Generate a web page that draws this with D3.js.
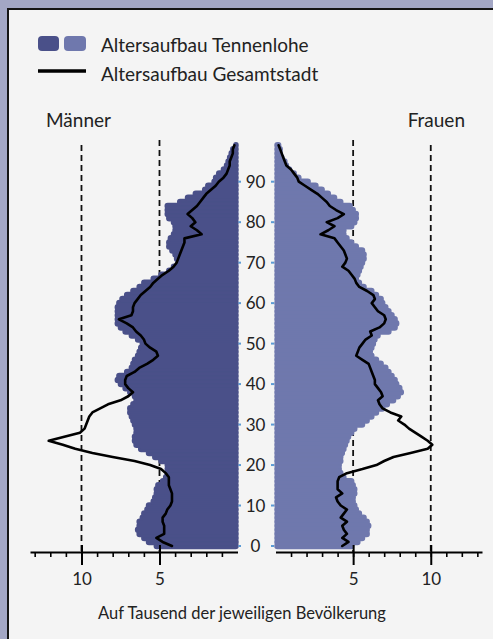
<!DOCTYPE html>
<html>
<head>
	<meta charset="utf-8">
	<script type="text/javascript" src="https://cdn.jsdelivr.net/npm/d3@7/dist/d3.min.js"></script>
	<title>Altersaufbau Tennenlohe</title>
	<style>
		body { margin: 0; }
		svg { display: block; }
	</style>
</head>
<body>
	<script type="text/javascript">

	// ages 0..99, values per thousand
	var ages = d3.range(0, 100);

	var maleTennenlohe = [
		5.3, 5.8, 6.1, 6.4, 6.5, 6.4, 6.4, 6.2, 6.1, 5.9,
		5.8, 5.5, 5.4, 5.3, 5.3, 5.2, 4.9, 4.7, 4.6, 4.6,
		4.6, 5.0, 5.4, 5.8, 6.3, 6.6, 6.7, 6.7, 6.6, 6.6,
		6.7, 6.8, 6.9, 7.0, 7.0, 6.8, 6.6, 6.7, 7.0, 7.3,
		7.6, 7.8, 7.7, 7.2, 6.9, 6.8, 6.7, 6.5, 6.4, 6.3,
		6.2, 6.5, 6.9, 7.3, 7.6, 7.8, 7.8, 7.8, 7.8, 7.8,
		7.7, 7.5, 7.2, 6.8, 6.4, 6.1, 5.5, 5.0, 4.5, 4.2,
		3.9, 4.0, 4.1, 4.3, 4.5, 4.5, 4.4, 4.2, 4.1, 4.1,
		4.2, 4.5, 4.6, 4.6, 4.6, 3.8, 3.3, 2.8, 2.2, 2.0,
		1.6, 1.5, 1.3, 1.0, 0.8, 0.7, 0.6, 0.5, 0.4, 0.2
	];

	var femaleTennenlohe = [
		5.0, 5.4, 5.7, 6.0, 6.0, 6.1, 6.0, 5.8, 5.5, 5.3,
		5.2, 5.1, 5.1, 5.2, 5.2, 5.1, 5.0, 4.5, 4.3, 4.2,
		4.2, 4.3, 4.3, 4.4, 4.5, 4.6, 4.7, 4.8, 5.0, 5.2,
		5.7, 6.0, 6.3, 6.6, 7.0, 7.3, 7.7, 8.0, 8.2, 8.1,
		7.9, 7.8, 7.6, 7.4, 7.2, 6.9, 6.6, 6.3, 6.2, 6.3,
		6.4, 6.5, 6.7, 7.4, 7.8, 7.9, 7.8, 7.6, 7.4, 7.2,
		7.0, 6.9, 6.6, 6.3, 5.8, 5.5, 5.3, 5.4, 5.5, 5.6,
		5.7, 5.8, 5.8, 5.7, 5.3, 5.0, 4.7, 4.5, 4.5, 5.0,
		5.2, 5.3, 5.3, 5.1, 4.9, 4.3, 3.9, 3.5, 3.1, 2.7,
		2.2, 1.6, 1.3, 1.0, 0.8, 0.7, 0.5, 0.4, 0.4, 0.3
	];

	var maleStadt = [
		4.2, 4.8, 5.2, 4.7, 4.7, 4.7, 4.8, 4.8, 4.6, 4.5,
		4.3, 4.2, 4.2, 4.2, 4.3, 4.4, 4.4, 4.4, 4.6, 4.9,
		5.6, 6.6, 8.0, 9.3, 10.4, 11.2, 12.1, 11.1, 10.1, 9.8,
		9.7, 9.6, 9.5, 9.3, 8.8, 8.3, 7.5, 7.0, 6.7, 7.0,
		7.2, 7.2, 7.1, 6.6, 6.3, 5.8, 5.4, 5.1, 5.2, 5.6,
		5.9, 6.0, 6.2, 6.5, 6.7, 7.1, 7.6, 6.8, 6.7, 6.7,
		6.6, 6.4, 6.2, 5.9, 5.6, 5.4, 5.1, 4.8, 4.4, 4.1,
		3.9, 3.8, 3.7, 3.6, 3.5, 3.4, 3.4, 2.3, 2.6, 3.0,
		2.7, 2.9, 3.2, 2.9, 2.6, 2.4, 2.2, 2.0, 1.7, 1.4,
		1.2, 0.9, 0.7, 0.6, 0.5, 0.5, 0.4, 0.3, 0.3, 0.2
	];

	var femaleStadt = [
		4.3, 4.7, 4.3, 4.6, 4.4, 4.3, 4.6, 4.2, 4.4, 4.6,
		4.2, 4.0, 3.9, 4.3, 4.0, 4.0, 4.0, 4.1, 4.6, 5.6,
		6.5, 7.0, 7.6, 8.7, 9.8, 10.1, 9.8, 9.4, 9.0, 8.6,
		8.3, 7.9, 8.1, 7.4, 6.9, 6.7, 6.6, 6.9, 6.8, 6.6,
		6.4, 6.4, 6.3, 6.2, 6.1, 6.0, 5.6, 5.2, 5.3, 5.4,
		5.6, 5.8, 6.2, 6.1, 6.7, 7.0, 7.1, 7.0, 6.6, 6.4,
		6.2, 6.4, 6.3, 5.9, 5.4, 5.2, 5.1, 4.9, 4.7, 4.3,
		4.5, 4.6, 4.5, 4.4, 4.2, 4.0, 3.8, 2.9, 3.4, 3.8,
		3.3, 4.0, 4.4, 3.9, 3.5, 3.3, 3.0, 2.7, 2.3, 1.9,
		1.5, 1.4, 1.2, 1.0, 0.7, 0.6, 0.5, 0.4, 0.3, 0.2
	];

	var ageTicks = [0, 10, 20, 30, 40, 50, 60, 70, 80, 90];
	var minorTicks = [1, 2, 3, 4, 5, 6, 7, 8, 9, 10, 11, 12, 13];
	var majorTicks = [5, 10];

	var legendLabels = ["Altersaufbau Tennenlohe", "Altersaufbau Gesamtstadt"];
	var sideLabels = ["Männer", "Frauen"];
	var axisTitle = "Auf Tausend der jeweiligen Bevölkerung";

	var colorMale = "#4a5089";
	var colorFemale = "#6f78ad";
	var fontFamily = "Lato, 'Noto Sans', sans-serif";

	var widthSvg = 493;
	var heightSvg = 639;

	var svg = d3.select("body")
		.append("svg")
		.attr("width", widthSvg)
		.attr("height", heightSvg)
		.style("font-family", fontFamily);

	// frame
	svg.append("rect")
		.attr("width", widthSvg)
		.attr("height", heightSvg)
		.attr("fill", "#a3a7c5");

	svg.append("rect")
		.attr("x", 8)
		.attr("y", 9)
		.attr("width", widthSvg)
		.attr("height", heightSvg)
		.attr("fill", "#f4f4f4")
		.attr("stroke", "#151515")
		.attr("stroke-width", 2);

	var yScale = d3.scaleLinear()
		.domain([0, 90])
		.range([546, 181.7]);

	var xLeft = d3.scaleLinear()
		.domain([0, 13.3])
		.range([237.5, 30]);

	var xRight = d3.scaleLinear()
		.domain([0, 13.3])
		.range([275.5, 482]);

	var barH = yScale(0) - yScale(1);
	var axisY = 552;

	// dashed reference lines (behind bars)
	var dashes = svg.append("g");
	majorTicks.forEach(function(t, i) {
		[xLeft(t), xRight(t)].forEach(function(x) {
			dashes.append("line")
				.attr("x1", x).attr("x2", x)
				.attr("y1", t == 10 ? 145 : 140)
				.attr("y2", axisY)
				.attr("stroke", "#111")
				.attr("stroke-width", 1.8)
				.attr("stroke-dasharray", "6,4");
		});
	});

	// bars
	function drawBars(values, scale, color, left) {
		svg.append("g")
			.selectAll("rect")
			.data(ages)
			.enter()
			.append("rect")
			.attr("x", function(a) { return left ? scale(values[a]) : scale(0); })
			.attr("width", function(a) { return Math.abs(scale(values[a]) - scale(0)); })
			.attr("y", function(a) { return yScale(a) - barH / 2; })
			.attr("height", barH)
			.attr("rx", 2)
			.attr("fill", color)
			.attr("stroke", color)
			.attr("stroke-width", 2.5)
			.attr("stroke-linejoin", "round");
	}

	drawBars(maleTennenlohe, xLeft, colorMale, true);
	drawBars(femaleTennenlohe, xRight, colorFemale, false);

	// Gesamtstadt lines
	function drawLine(values, scale) {
		var line = d3.line()
			.x(function(a) { return scale(values[a]); })
			.y(function(a) { return yScale(a); });
		svg.append("path")
			.datum(ages)
			.attr("d", line)
			.attr("fill", "none")
			.attr("stroke", "#000")
			.attr("stroke-width", 2.6)
			.attr("stroke-linejoin", "round")
			.attr("stroke-linecap", "round");
	}

	drawLine(maleStadt, xLeft);
	drawLine(femaleStadt, xRight);

	// age labels in the middle
	var ageG = svg.append("g");
	ageTicks.forEach(function(t) {
		ageG.append("text")
			.attr("x", 255.5)
			.attr("y", yScale(t) + 6)
			.attr("text-anchor", "middle")
			.attr("font-size", 17)
			.attr("fill", "#222")
			.text(t);
		[[238.5, 241], [271, 274]].forEach(function(p) {
			ageG.append("line")
				.attr("x1", p[0]).attr("x2", p[1])
				.attr("y1", yScale(t)).attr("y2", yScale(t))
				.attr("stroke", "#5b9bd5")
				.attr("stroke-width", 2);
		});
	});

	// bottom axes
	function drawAxis(scale) {
		var minor = svg.append("g")
			.attr("transform", "translate(0," + axisY + ")")
			.call(d3.axisBottom(scale).tickValues(minorTicks).tickSize(5).tickSizeOuter(0).tickFormat(""));
		minor.select(".domain").attr("stroke", "#000").attr("stroke-width", 2);
		minor.selectAll(".tick line").attr("stroke", "#000").attr("stroke-width", 1.6);

		var major = svg.append("g")
			.attr("transform", "translate(0," + axisY + ")")
			.call(d3.axisBottom(scale).tickValues(majorTicks).tickSize(13).tickPadding(8));
		major.select(".domain").remove();
		major.selectAll(".tick line")
			.attr("y1", -7)
			.attr("stroke", "#000")
			.attr("stroke-width", 2);
		major.selectAll(".tick text")
			.attr("font-family", fontFamily)
			.attr("font-size", 17)
			.attr("fill", "#222");
	}

	drawAxis(xLeft);
	drawAxis(xRight);

	svg.append("text")
		.attr("x", 242)
		.attr("y", 619)
		.attr("text-anchor", "middle")
		.attr("font-size", 16.5)
		.attr("fill", "#222")
		.text(axisTitle);

	// side labels
	svg.append("text")
		.attr("x", 46)
		.attr("y", 127)
		.attr("font-size", 19)
		.attr("fill", "#222")
		.text(sideLabels[0]);

	svg.append("text")
		.attr("x", 465)
		.attr("y", 127)
		.attr("text-anchor", "end")
		.attr("font-size", 19)
		.attr("fill", "#222")
		.text(sideLabels[1]);

	// legend
	var legend = svg.append("g");
	legend.append("rect")
		.attr("x", 38).attr("y", 36).attr("width", 21).attr("height", 15).attr("rx", 4)
		.attr("fill", colorMale);
	legend.append("rect")
		.attr("x", 64).attr("y", 36).attr("width", 22).attr("height", 15).attr("rx", 4)
		.attr("fill", colorFemale);
	legend.append("line")
		.attr("x1", 38).attr("x2", 86).attr("y1", 71).attr("y2", 71)
		.attr("stroke", "#000").attr("stroke-width", 3.6);

	legendLabels.forEach(function(label, i) {
		legend.append("text")
			.attr("x", 101)
			.attr("y", 52 + i * 29)
			.attr("font-size", 19)
			.attr("fill", "#222")
			.text(label);
	});

	</script>
</body>
</html>
